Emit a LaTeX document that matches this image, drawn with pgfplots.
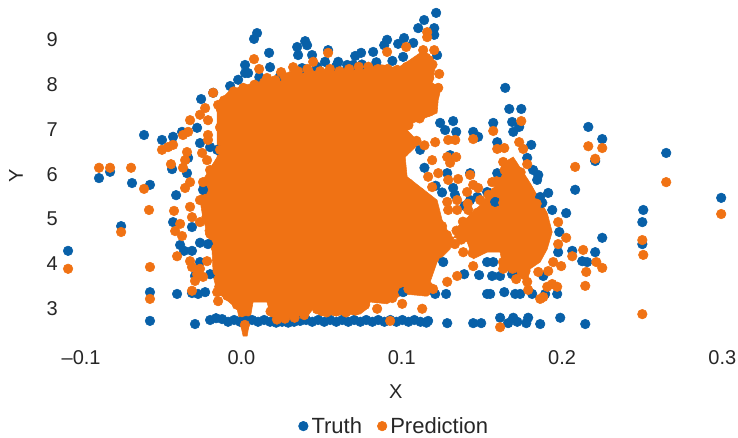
\documentclass[border=0pt]{standalone}
\usepackage{pgfplots}
\pgfplotsset{compat=1.18}
\usepackage{fontspec}
\setmainfont{Liberation Sans}
\definecolor{truth}{RGB}{8,96,168}
\definecolor{pred}{RGB}{240,114,20}
\definecolor{txt}{RGB}{38,38,38}
\begin{document}
\begin{tikzpicture}
\path[use as bounding box] (-47.8pt,-74.7pt) rectangle (505.7pt,253.8pt);
\begin{axis}[
  scale only axis, width=505pt, height=249.2pt,
  xmin=-0.11, xmax=0.31, ymin=2.3, ymax=9.7,
  clip=false,
  axis line style={draw=none},
  tick style={draw=none},
  xtick={-0.1,0,0.1,0.2,0.3},
  xticklabels={–0.1,0.0,0.1,0.2,0.3},
  ytick={3,4,5,6,7,8,9},
  yticklabels={3,4,5,6,7,8,9},
  tick label style={font=\fontsize{15}{18}\selectfont, text=txt},
  xticklabel style={yshift=-5.5pt, xshift=1pt},
  yticklabel style={xshift=-1pt, yshift=-1.5pt},
  xlabel={X}, ylabel={Y},
  label style={font=\fontsize{15}{18}\selectfont, text=txt},
  xlabel style={at={(axis description cs:0.493,-0.16)},anchor=center},
  ylabel style={at={(axis description cs:-0.071,0.49)},anchor=center},
  legend columns=2,
  legend style={at={(0.492,-0.264)},anchor=center,draw=none,fill=none,
    font=\fontsize{16.5}{19}\selectfont, text=txt,
    /tikz/every even column/.append style={column sep=9pt},
    nodes={inner xsep=2.5pt},
    inner sep=0pt},
  legend cell align=left,
]
% Truth
\addplot[only marks, mark=*, mark size=3.6pt, color=truth] coordinates {
(.0106,9.10)(.0087,8.97)(.0181,8.66)(.0187,8.34)(.0031,8.39)(.0031,8.21)(.0050,8.21)(-.0012,8.06)(-.0062,7.92)(-.0168,7.77)(-.0243,7.63)
(-.0599,6.83)(-.0487,6.72)(-.0418,6.79)(-.0362,6.90)(-.0880,5.87)(-.0811,6.01)(-.0674,5.76)(-.0562,5.72)(-.0399,5.49)(-.0424,6.07)
(-.0324,6.32)(-.0250,6.65)(-.0268,6.99)(-.0143,6.50)(-.0187,6.56)(-.0331,5.98)(-.0231,5.61)
(.0356,8.79)(.0406,8.92)(.0418,8.83)(.0362,8.61)(.0449,8.61)(.0549,8.72)(.0612,8.46)(.0705,8.39)(.0718,8.59)(.0755,8.66)(.0530,8.46)(.0387,8.32)(.0668,8.39)
(.0250,8.15)(.0120,8.12)(.0480,8.35)(.0600,8.36)(.0760,8.40)(.0850,8.45)(.0950,8.48)
(-.0742,4.80)(-.1073,4.25)(-.0562,3.33)(-.0393,3.29)(-.0562,2.69)(-.0281,2.62)(-.0300,3.31)(-.0262,3.29)(-.0218,3.33)(-.0374,4.38)(-.0349,4.25)(-.0300,4.25)(-.0250,4.43)(-.0200,4.40)(-.0418,4.89)(-.0300,4.78)(-.0250,4.00)(-.0187,3.73)(-.0281,3.69)
(-.0187,2.71)(-.0150,2.75)(-.0112,2.73)(-.0075,2.67)(-.0037,2.71)(.0000,2.67)(.0037,2.69)(.0075,2.71)(.0112,2.67)(.0150,2.71)(.0187,2.67)(.0225,2.65)(.0262,2.67)(.0300,2.65)(.0337,2.67)(.0375,2.69)(.0412,2.71)(.0450,2.67)(.0487,2.71)(.0525,2.67)(.0562,2.71)(.0600,2.67)(.0637,2.71)(.0675,2.67)(.0712,2.71)(.0750,2.67)(.0787,2.71)(.0825,2.67)(.0862,2.71)(.0900,2.67)(.0937,2.71)(.0975,2.67)(.1012,2.71)(.1050,2.67)(.1087,2.71)(.1125,2.67)(.1162,2.65)(.1173,2.69)
(.1223,9.55)(.1148,9.39)(.1111,9.21)(.1211,9.21)(.1211,9.06)(.1023,8.99)(.0986,8.86)(.1080,8.88)(.0917,8.95)(.0899,8.83)(.0830,8.68)(.1017,8.57)(.1229,8.61)
(.1654,7.88)(.1679,7.41)(.1754,7.41)(.1329,7.14)(.1579,7.10)(.1697,7.12)(.1741,7.01)(.1348,6.90)(.1454,6.90)(.1485,6.79)(.1704,6.90)(.1604,6.67)(.1816,6.61)(.1791,6.32)
(.2172,7.01)(.2259,6.74)(.2215,6.25)(.2658,6.43)(.1860,5.94)(.1828,6.05)(.1853,5.83)(.1922,5.54)(.2090,5.61)(.1947,5.16)(.2034,5.09)(.2515,5.16)(.3001,5.43)
(.1279,6.94)(.1248,7.10)(.1123,6.50)(.1310,6.38)(.1292,5.98)(.1329,5.65)(.1435,5.98)(.1541,5.56)(.1604,5.98)(.1435,5.38)(.1591,5.34)(.1872,5.45)(.1885,5.32)
(.1150,6.10)(.1220,5.70)(.1260,5.55)(.1340,5.50)(.1400,5.25)(.1480,5.45)
(.2509,4.89)(.2509,4.40)(.1991,4.67)(.2259,4.54)(.2215,4.22)(.2072,4.25)(.1984,4.22)(.2134,4.02)(.2165,4.00)
(.1398,3.73)(.1491,3.71)(.1572,3.69)(.1622,3.69)(.1697,3.73)(.1891,3.69)(.1541,3.29)(.1560,3.29)(.1648,3.33)(.1716,3.29)(.1747,3.29)(.1822,3.29)(.1903,3.29)(.1978,3.29)(.1285,3.29)(.1217,3.29)(.1017,3.33)
(.1541,4.00)(.1579,4.00)(.1267,4.00)
(.1292,2.64)(.1454,2.64)(.1504,2.64)(.1622,2.76)(.1672,2.64)(.1704,2.76)(.1729,2.67)(.1797,2.76)(.1785,2.64)(.1872,2.62)(.1997,2.76)(.2153,2.62)
};
\addlegendentry{Truth}
% Prediction: the saturated mass of overlapping points, as its outline
\addplot[fill=pred, draw=pred, forget plot] coordinates {
(-.0143,7.54)(-.0062,7.83)(.0081,7.99)(.0206,8.06)(.0331,8.28)(.0456,8.32)(.0580,8.28)(.0792,8.43)(.0892,8.39)(.0980,8.32)(.1042,8.46)(.1123,8.66)(.1204,8.57)(.1217,8.34)(.1198,7.99)(.1254,7.88)(.1236,7.61)(.1229,7.32)(.1167,7.23)(.1080,7.10)(.1042,6.94)(.1120,6.65)(.1030,6.34)(.1042,5.90)(.1229,5.38)(.1260,4.94)(.1310,4.58)(.1416,4.45)(.1454,4.07)(.1541,4.22)(.1622,4.22)(.1641,3.85)(.1729,3.69)(.1791,3.56)(.1810,3.85)(.1872,4.00)(.1916,4.29)(.1947,4.67)(.1916,5.09)(.1810,5.76)(.1704,6.34)(.1641,6.21)(.1579,5.61)(.1498,5.27)(.1435,5.05)(.1360,4.80)(.1310,4.29)(.1229,4.00)(.1186,3.56)(.1229,3.40)(.1167,3.24)(.1017,3.29)(.0917,3.07)(.0811,3.11)(.0792,2.96)(.0749,2.84)(.0499,2.80)(.0456,2.96)(.0393,2.67)(.0206,2.58)(.0168,3.11)(.0081,3.11)(.0044,2.35)(.0019,2.35)(-.0019,2.96)(-.0143,3.33)(-.0168,3.69)(-.0175,4.29)(-.0231,4.96)(-.0250,5.38)(-.0231,5.83)(-.0143,6.34)(-.0143,7.01)
} -- cycle;
\addplot[only marks, mark=*, mark size=3.6pt, color=pred] coordinates {
(.0087,8.52)(.0119,8.30)(.0168,8.10)(.0256,8.23)(.0331,8.34)(.0456,8.46)(.0549,8.66)(-.0168,7.77)(-.0218,7.43)(-.0250,7.28)(-.0312,7.16)(-.0200,7.16)(-.0137,7.50)(-.0356,6.83)(-.0324,6.90)(-.0418,6.61)(-.0449,6.56)(-.0487,6.50)(-.0200,6.83)(-.0200,6.72)(-.0331,6.45)(-.0237,6.43)(-.0343,6.27)(-.0356,6.10)(-.0431,6.18)(-.0206,6.27)(-.0187,6.05)
(-.0880,6.10)(-.0811,6.10)(-.0680,6.10)(-.0599,5.63)(-.0568,5.16)(-.0312,5.78)(-.0343,5.65)(-.0231,5.78)(-.0250,5.38)(-.0412,5.14)(-.0312,5.23)(-.0300,5.00)
(-.0742,4.67)(-.1073,3.85)(-.0562,3.89)(-.0562,3.18)(-.0393,4.13)(-.0405,4.69)(-.0374,4.85)(-.0362,4.58)(-.0300,3.36)(-.0281,3.58)(-.0268,3.73)(-.0300,3.89)(-.0312,4.02)(-.0206,4.02)(-.0250,3.85)(-.0231,3.67)(-.0137,3.13)(-.0250,4.89)(-.0187,4.63)(-.0143,3.33)
(.1167,9.12)(.1167,9.01)(.1036,8.79)(.0917,8.68)(.1142,8.72)(.1211,8.72)(.1242,8.19)(.1236,7.88)
(.1754,7.14)(.1579,6.92)(.1454,6.74)(.1342,6.72)(.1298,6.72)(.1217,6.67)(.1741,6.67)(.1604,6.52)(.1648,6.54)(.1766,6.52)
(.2172,6.58)(.2259,6.54)(.2215,6.30)(.2090,6.12)(.2658,5.78)(.3001,5.07)
(.1348,6.34)(.1292,6.34)(.1310,6.21)(.1198,6.27)(.1641,6.23)(.1791,6.18)(.1236,5.98)(.1173,5.90)(.1198,5.67)(.1298,5.83)(.1360,5.85)(.1435,5.94)(.1454,5.72)(.1416,5.56)(.1485,5.65)(.1572,5.78)(.1591,5.56)(.1292,5.34)(.1354,5.38)(.1298,5.16)(.1354,5.16)(.1423,5.16)(.1498,5.38)(.1541,5.20)(.1454,5.00)(.1641,5.32)
(.1984,4.89)(.2034,4.54)(.1984,4.40)(.2140,4.27)(.2072,4.13)(.2222,4.00)(.2259,3.87)(.2159,3.78)(.2153,3.47)(.2003,3.91)(.1953,4.00)(.1922,3.80)(.1860,3.78)(.2509,4.49)(.2515,4.16)(.2509,2.84)(.1622,2.55)(.1872,3.18)(.1891,3.22)(.1916,3.45)(.1947,3.51)(.1978,3.45)(.1797,3.38)(.1791,3.56)(.1722,3.62)(.1354,3.69)(.1292,3.56)(.1204,3.40)(.1136,2.96)(.1011,3.07)(.0855,2.96)(.0936,2.69)(.1454,3.91)(.1641,3.85)(.1392,4.22)
(-.0100,7.60)(-.0040,7.80)(.0020,7.88)(.0090,7.95)(.0150,8.00)(.0220,8.05)(.0280,8.12)(.0360,8.25)(.0420,8.30)(.0500,8.25)(.0560,8.30)(.0620,8.25)(.0680,8.30)(.0740,8.35)(.0800,8.35)(.0860,8.30)(.0920,8.30)(.0980,8.28)(.1040,8.35)(.1100,8.45)(.1160,8.55)
(.1200,8.40)(.1180,8.10)(.1210,7.85)(.1200,7.60)(.1180,7.35)(.1120,7.20)(.1050,7.05)(.1100,6.70)(.1150,6.60)(.1020,6.45)(.1000,6.20)(.1010,5.95)(.1050,5.75)(.1120,5.55)(.1180,5.30)(.1220,5.00)(.1260,4.80)(.1290,4.60)(.1340,4.40)
(.1150,3.35)(.1050,3.40)(.0950,3.20)(.0850,3.20)(.0780,3.05)(.0720,2.92)(.0660,2.88)(.0600,2.90)(.0540,2.88)(.0480,2.95)(.0400,2.82)(.0340,2.76)(.0280,2.74)(.0230,2.72)(.0190,2.90)
(-.0020,3.05)(-.0080,3.25)(-.0130,3.45)(-.0140,3.80)(-.0150,4.30)(-.0190,4.70)(-.0210,5.00)(-.0220,5.40)(-.0200,5.80)(-.0150,6.10)(-.0125,6.50)(-.0125,7.00)(-.0120,7.40)(.0010,3.20)(.0030,2.60)
(.1700,6.15)(.1650,6.05)(.1750,6.00)(.1800,5.60)(.1850,5.30)(.1880,5.00)(.1900,4.70)(.1880,4.35)(.1830,4.05)(.1780,3.80)(.1700,3.85)(.1640,4.00)(.1600,5.80)(.1550,5.50)(.1500,4.30)(.1450,4.20)(.1380,4.50)(.1390,4.90)(.1350,4.70)(.1440,4.75)(.1480,5.10)(.1420,5.30)
};
\addlegendentry{Prediction}
\end{axis}
\end{tikzpicture}
\end{document}
